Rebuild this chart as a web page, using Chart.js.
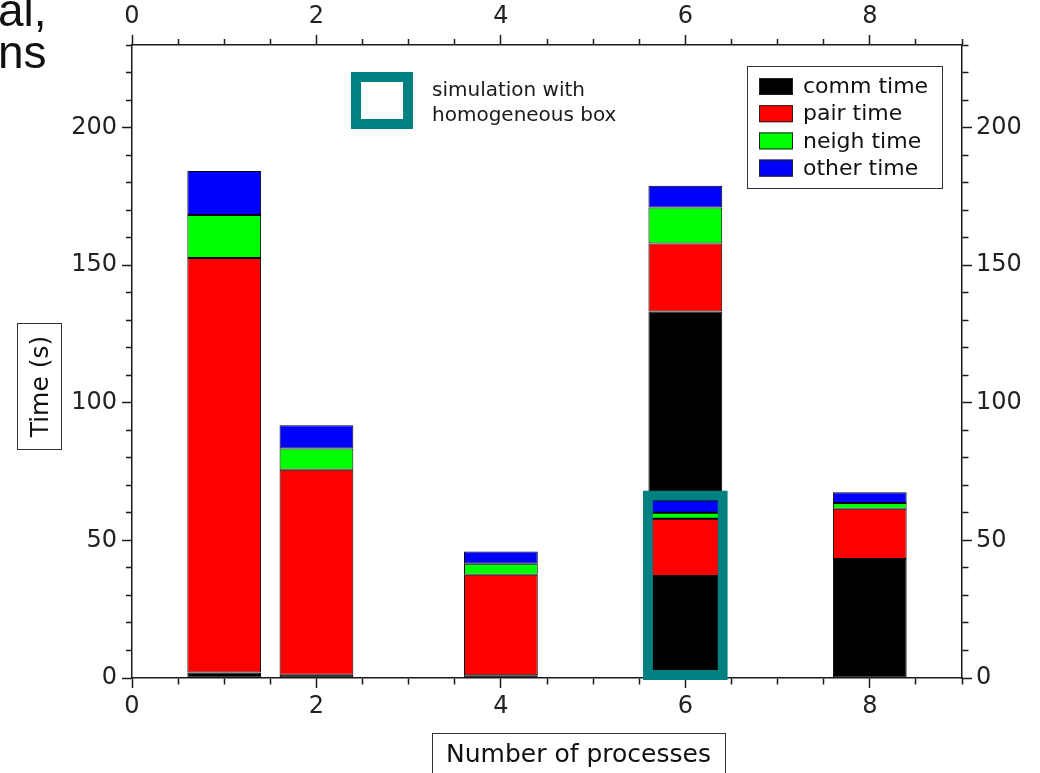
<!DOCTYPE html>
<html>
<head>
<meta charset="utf-8">
<script src="https://cdn.jsdelivr.net/npm/chart.js@4.4.1/dist/chart.umd.min.js"></script>
<style>
  html, body { margin: 0; padding: 0; background: #fff; }
  #wrap { position: relative; width: 1040px; height: 773px; overflow: hidden; }
  #c { position: absolute; left: 0; top: 0; }
  .slide { position: absolute; font-family: 'Liberation Sans', Arial, sans-serif; font-size: 46px;
           line-height: 1; color: #111; white-space: nowrap; }
</style>
</head>
<body>
<div id="wrap">
  <canvas id="c" width="1040" height="773"></canvas>
  <div class="slide" style="left:-2px; top:-13px;">al,</div>
  <div class="slide" style="left:-2px; top:29px;">ns</div>
</div>
<script>
// Run times per process count, split by phase (seconds)
const processes = [1, 2, 4, 6, 8];
const commTime  = [2.0, 1.2, 1.0, 133.2, 43.2];
const pairTime  = [150.6, 74.5, 36.5, 24.7, 18.3];
const neighTime = [15.6, 7.7, 4.0, 13.1, 2.1];
const otherTime = [16.0, 8.4, 4.5, 7.9, 3.9];

// Same 6-process run on a homogeneous box
const homogProcesses = [6];
const homogComm  = [37.1];
const homogPair  = [20.8];
const homogNeigh = [2.1];
const homogOther = [4.6];
const homogFrame = [[-0.7, 68.1]];

const phaseLabels = ['comm time', 'pair time', 'neigh time', 'other time'];
const phaseColors = ['#000000', '#ff0000', '#00ff00', '#0000ff'];
const frameColor = '#008080';

const xTickLabels = [0, 2, 4, 6, 8];
const yTickLabels = [0, 50, 100, 150, 200];

const pts = (xs, ys) => xs.map((x, i) => ({ x: x, y: ys[i] }));

const phaseSets = [commTime, pairTime, neighTime, otherTime].map((vals, k) => ({
  label: phaseLabels[k],
  data: pts(processes, vals),
  backgroundColor: phaseColors[k],
  borderColor: '#000',
  borderWidth: 1,
  borderSkipped: false,
  stack: 'all',
  grouped: false,
  order: 0,
  categoryPercentage: 1,
  barPercentage: 1.6   // 0.8 x-units wide (x ticks are every 0.5)
}));

const homogSets = [homogComm, homogPair, homogNeigh, homogOther].map((vals, k) => ({
  label: 'homog ' + phaseLabels[k],
  data: pts(homogProcesses, vals),
  backgroundColor: phaseColors[k],
  borderColor: '#000',
  borderWidth: 1,
  borderSkipped: false,
  stack: 'homog',
  grouped: false,
  order: -1,
  categoryPercentage: 1,
  barPercentage: 1.6
}));

const frameSet = {
  label: 'homogeneous box',
  data: homogProcesses.map((x, i) => ({ x: x, y: homogFrame[i] })),
  backgroundColor: 'rgba(0,0,0,0)',
  borderColor: frameColor,
  borderWidth: 10,
  borderSkipped: false,
  stack: 'frame',
  grouped: false,
  order: -2,
  clip: false,
  categoryPercentage: 1,
  barPercentage: 1.84
};

const AXIS_COLOR = '#1a1a1a';
const TICK_FONT = { family: 'DejaVu Sans', size: 24 };

// minor ticks are drawn shorter by dashing the tick line, keeping the part next to the axis
function tickDash(isMajor, fromAxis) {
  return (ctx) => {
    if (!ctx.tick || isMajor(ctx.tick.value)) return [];
    return fromAxis ? [6, 100] : [0, 4, 6, 100];
  };
}
const xMajor = v => xTickLabels.includes(v);
const yMajor = v => yTickLabels.includes(v);

function axis(position, min, max, step, isMajor, labels, size, pad) {
  const horizontal = position === 'top' || position === 'bottom';
  return {
    type: 'linear',
    position: position,
    min: min,
    max: max,
    offset: false,
    stacked: !horizontal,
    grid: {
      offset: false,
      drawOnChartArea: false,
      tickLength: 10,
      tickWidth: 1.5,
      tickColor: AXIS_COLOR,
      tickBorderDash: tickDash(isMajor, position === 'bottom' || position === 'right')
    },
    border: { display: true, color: AXIS_COLOR, width: 1.5 },
    ticks: {
      stepSize: step,
      autoSkip: false,
      maxRotation: 0,
      padding: pad,
      font: TICK_FONT,
      color: '#222',
      callback: v => (labels.includes(v) ? String(v) : '')
    },
    afterFit: s => { if (horizontal) s.height = size; else s.width = size; }
  };
}

const decor = {
  id: 'decor',
  afterDraw(chart) {
    const ctx = chart.ctx;
    ctx.save();
    ctx.textBaseline = 'middle';

    // legend
    ctx.fillStyle = '#fff';
    ctx.fillRect(747, 66, 195, 122);
    ctx.strokeStyle = '#333';
    ctx.lineWidth = 1;
    ctx.strokeRect(747.5, 66.5, 195, 122);
    ctx.font = '22px "DejaVu Sans"';
    phaseLabels.forEach((lab, k) => {
      const cy = 86.5 + k * 27.2;
      ctx.fillStyle = phaseColors[k];
      ctx.fillRect(759, cy - 8.5, 34, 17);
      ctx.strokeStyle = '#222';
      ctx.strokeRect(759.5, cy - 8, 33, 16);
      ctx.fillStyle = '#111';
      ctx.textAlign = 'left';
      ctx.fillText(lab, 803, cy + 1);
    });

    // annotation for the framed bar
    ctx.strokeStyle = frameColor;
    ctx.lineWidth = 10;
    ctx.strokeRect(356, 77, 52, 47);
    ctx.fillStyle = '#1a1a1a';
    ctx.font = '20px "DejaVu Sans"';
    ctx.textBaseline = 'alphabetic';
    ctx.fillText('simulation with', 432, 96);
    ctx.fillText('homogeneous box', 432, 121);

    // axis titles in boxes
    ctx.lineWidth = 1;
    ctx.strokeStyle = '#333';
    ctx.strokeRect(17.5, 323.5, 44, 126);
    ctx.strokeRect(432.5, 733.5, 293, 60);
    ctx.fillStyle = '#111';
    ctx.font = '25px "DejaVu Sans"';
    ctx.textAlign = 'center';
    ctx.textBaseline = 'middle';
    ctx.fillText('Number of processes', 578.5, 755);
    ctx.translate(40, 386.5);
    ctx.rotate(-Math.PI / 2);
    ctx.fillText('Time (s)', 0, 1);
    ctx.restore();
  }
};

new Chart(document.getElementById('c'), {
  type: 'bar',
  data: { datasets: [...phaseSets, ...homogSets, frameSet] },
  options: {
    responsive: false,
    animation: false,
    layout: { padding: 0 },
    plugins: { legend: { display: false }, tooltip: { enabled: false }, title: { display: false } },
    scales: {
      x:  axis('bottom', 0, 9, 0.5, xMajor, xTickLabels, 95, 4),
      x2: axis('top', 0, 9, 0.5, xMajor, xTickLabels, 45, 4),
      y:  axis('left', 0, 230, 10, yMajor, yTickLabels, 132, 5),
      y2: axis('right', 0, 230, 10, yMajor, yTickLabels, 78, 4)
    }
  },
  plugins: [decor]
});
</script>
</body>
</html>
